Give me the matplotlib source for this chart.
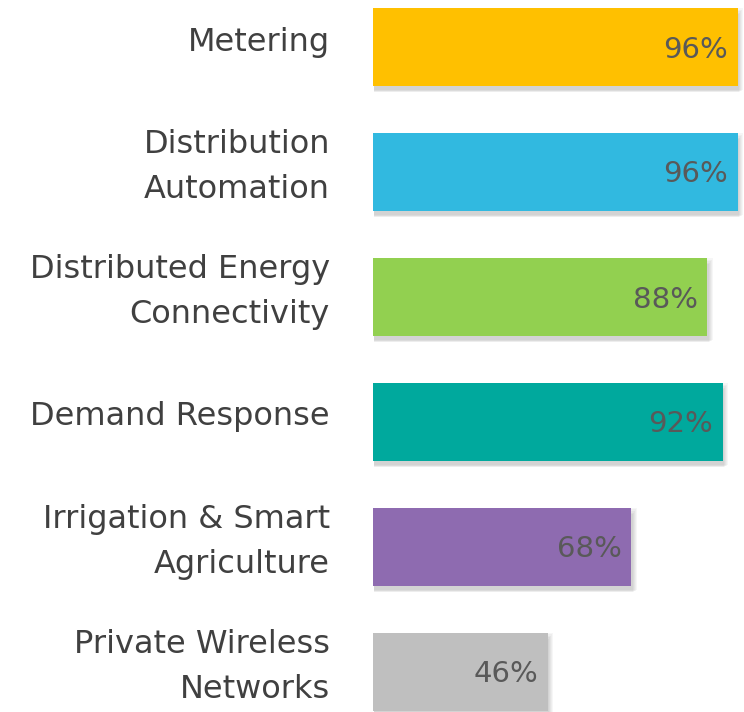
import matplotlib.pyplot as plt
from matplotlib.patches import Rectangle

# data
categories = ["Metering", "Distribution\nAutomation", "Distributed Energy\nConnectivity",
              "Demand Response", "Irrigation & Smart\nAgriculture", "Private Wireless\nNetworks"]
values = [96, 96, 88, 92, 68, 46]
colors = ["#FFC000", "#31B9E0", "#92D050", "#00A99D", "#8E6BB0", "#BFBFBF"]

fig = plt.figure(figsize=(7.44, 7.12), dpi=100)
ax = fig.add_axes([373 / 744, 0, 1 - 373 / 744, 1])
ax.set_xlim(0, (744 - 373) / 3.8)
ax.set_ylim(5.32, -0.376)
ax.axis("off")

h = 0.624
pos = list(range(len(values)))

# soft drop shadow under each bar
for i, v in zip(pos, values):
    for k in range(5):
        off = 1.4 - k * 0.25
        ax.add_patch(Rectangle((0.3, i - h / 2 + 0.012 * k), v + off - 0.3,
                               h + 0.035 - 0.008 * k, color="black", alpha=0.035,
                               lw=0, zorder=1))

ax.barh(pos, values, height=h, color=colors, zorder=2)

for i, v in zip(pos, values):
    ax.text(v - 2.6, i + 0.02, f"{v}%", ha="right", va="center", fontsize=21,
            color="#595959", zorder=3)
    ax.text(-11.3, i - 0.04, categories[i], ha="right", va="center", fontsize=23,
            color="#404040", linespacing=1.57, clip_on=False, zorder=3)

fig.savefig("out.png", dpi=100)
